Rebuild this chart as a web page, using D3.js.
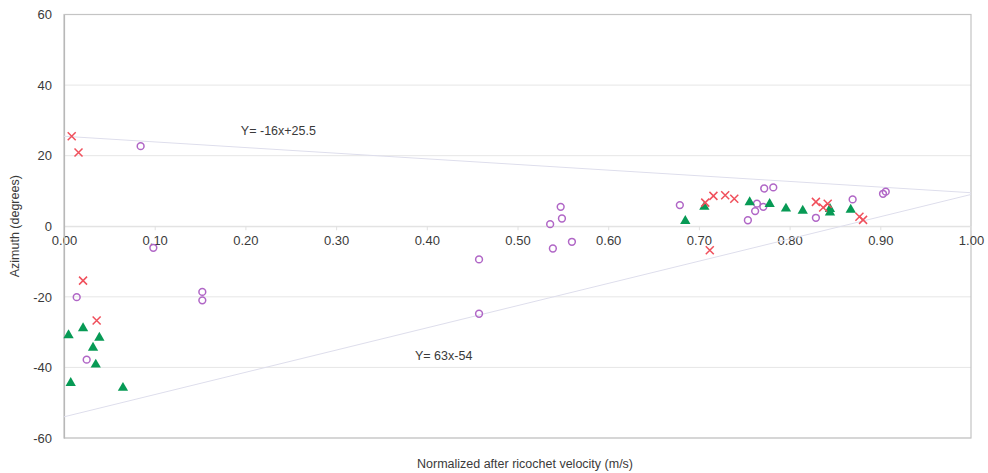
<!DOCTYPE html>
<html>
<head>
<meta charset="utf-8">
<script src="https://cdn.jsdelivr.net/npm/d3@7"></script>
<style>
  body { margin: 0; background: #fff; }
  svg { display: block; font-family: "Liberation Sans", Arial, sans-serif; }
  .tick text { fill: #3a3a3a; font-size: 13px; }
  .label { fill: #3a3a3a; font-size: 12.5px; }
</style>
</head>
<body>
<svg class="chart"></svg>
<script>
var margin = {top: 14.5, right: 17, bottom: 35, left: 64},
    width = 988 - margin.left - margin.right,
    height = 473 - margin.top - margin.bottom;

// red crosses
var crossX = [0.0085, 0.016, 0.021, 0.036, 0.707, 0.716, 0.729, 0.739, 0.712, 0.829, 0.837, 0.842, 0.877, 0.881];
var crossY = [25.5, 20.9, -15.4, -26.7, 6.7, 8.6, 8.8, 7.8, -6.8, 6.9, 5.3, 6.4, 2.7, 1.8];

// green triangles
var triX = [0.005, 0.021, 0.039, 0.032, 0.035, 0.0074, 0.065, 0.685, 0.706, 0.756, 0.778, 0.796, 0.8145, 0.8445, 0.8445, 0.8674];
var triY = [-30.9, -28.9, -31.6, -34.4, -39.2, -44.4, -45.8, 1.5, 5.5, 6.8, 6.3, 5.0, 4.4, 3.9, 4.9, 4.7];

// purple open circles
var circX = [0.0845, 0.0985, 0.014, 0.1525, 0.1525, 0.025, 0.4576, 0.4576, 0.536, 0.5476, 0.549, 0.539, 0.560,
             0.679, 0.754, 0.762, 0.764, 0.771, 0.772, 0.782, 0.829, 0.8695, 0.903, 0.906];
var circY = [22.7, -6.1, -20.1, -18.6, -21.0, -37.8, -9.4, -24.8, 0.6, 5.5, 2.2, -6.3, -4.4,
             6.0, 1.7, 4.3, 6.4, 5.5, 10.7, 11.0, 2.4, 7.6, 9.2, 9.8];

// trend lines: slope, intercept, label, label anchor
var trendSlope = [-16, 63];
var trendIntercept = [25.5, -54];
var trendText = ["Y= -16x+25.5", "Y= 63x-54"];
var trendLabelX = [0.195, 0.387];
var trendLabelY = [27.2, -36.6];

var xTicks = [0, 0.1, 0.2, 0.3, 0.4, 0.5, 0.6, 0.7, 0.8, 0.9, 1.0];
var yTicks = [-60, -40, -20, 0, 20, 40, 60];

var xScale = d3.scaleLinear().domain([0, 1]).range([0, width]);
var yScale = d3.scaleLinear().domain([-60, 60]).range([height, 0]);

var chart = d3.select(".chart")
    .attr("width", 988)
    .attr("height", 473);

var g = chart.append("g")
    .attr("transform", "translate(" + margin.left + "," + margin.top + ")");

// gridlines
g.selectAll(".grid")
    .data(yTicks)
  .enter().append("line")
    .attr("class", "grid")
    .attr("x1", 0)
    .attr("x2", width)
    .attr("y1", function(d) { return yScale(d); })
    .attr("y2", function(d) { return yScale(d); })
    .style("stroke", "#e6e6e6")
    .style("stroke-width", 1);

// plot border
g.append("rect")
    .attr("width", width)
    .attr("height", height)
    .style("fill", "none")
    .style("stroke", "#c4c4c4")
    .style("stroke-width", 1.2);

// x axis crossing at zero
var xAxis = d3.axisBottom(xScale)
    .tickValues(xTicks)
    .tickSize(4)
    .tickPadding(6)
    .tickFormat(d3.format(".2f"));

var gx = g.append("g")
    .attr("class", "x axis")
    .attr("transform", "translate(0," + yScale(0) + ")")
    .call(xAxis);
gx.select(".domain").style("stroke", "#e0e0e0");
gx.selectAll(".tick line").style("stroke", "#e0e0e0");

var yAxis = d3.axisLeft(yScale)
    .tickValues(yTicks)
    .tickSize(0)
    .tickPadding(12)
    .tickFormat(function(d) { return String(d); });

var gy = g.append("g")
    .attr("class", "y axis")
    .call(yAxis);
gy.select(".domain").style("stroke", "#b8b8b8").style("stroke-width", 1.2);

// trend lines
trendSlope.forEach(function(m, i) {
  var b = trendIntercept[i];
  g.append("line")
      .attr("x1", xScale(0))
      .attr("y1", yScale(b))
      .attr("x2", xScale(1))
      .attr("y2", yScale(m + b))
      .style("stroke", "#dedeec")
      .style("stroke-width", 1);
  g.append("text")
      .attr("class", "label")
      .attr("x", xScale(trendLabelX[i]))
      .attr("y", yScale(trendLabelY[i]))
      .attr("dy", ".35em")
      .text(trendText[i]);
});

// purple circles
g.selectAll(".circ")
    .data(d3.range(circX.length))
  .enter().append("circle")
    .attr("class", "circ")
    .attr("r", 3.4)
    .attr("cx", function(i) { return xScale(circX[i]); })
    .attr("cy", function(i) { return yScale(circY[i]); })
    .style("fill", "none")
    .style("stroke", "#b066c6")
    .style("stroke-width", 1.5);

// green triangles
var tri = d3.symbol().type(d3.symbolTriangle).size(46);
g.selectAll(".tri")
    .data(d3.range(triX.length))
  .enter().append("path")
    .attr("class", "tri")
    .attr("d", tri)
    .attr("transform", function(i) { return "translate(" + xScale(triX[i]) + "," + yScale(triY[i]) + ")"; })
    .style("fill", "#079a55");

// red crosses
var s = 4;
g.selectAll(".cross")
    .data(d3.range(crossX.length))
  .enter().append("path")
    .attr("class", "cross")
    .attr("d", "M" + -s + "," + -s + "L" + s + "," + s + "M" + -s + "," + s + "L" + s + "," + -s)
    .attr("transform", function(i) { return "translate(" + xScale(crossX[i]) + "," + yScale(crossY[i]) + ")"; })
    .style("fill", "none")
    .style("stroke", "#f0505c")
    .style("stroke-width", 1.5);

// axis titles
chart.append("text")
    .attr("class", "label")
    .attr("transform", "translate(19," + (margin.top + yScale(0)) + ") rotate(-90)")
    .style("text-anchor", "middle")
    .text("Azimuth (degrees)");

chart.append("text")
    .attr("class", "label")
    .attr("x", 525)
    .attr("y", 468)
    .style("text-anchor", "middle")
    .text("Normalized after ricochet velocity (m/s)");
</script>
</body>
</html>
